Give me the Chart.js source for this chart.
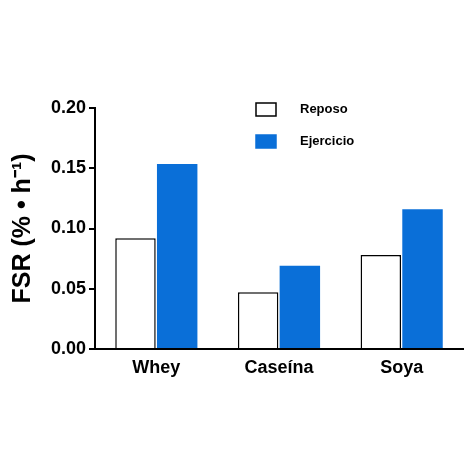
<!DOCTYPE html><html><head><script src="https://cdn.jsdelivr.net/npm/chart.js"></script>
<style>body{margin:0;background:#fff}#w{width:474px;height:474px}</style></head><body><div id="w"><canvas id="c"></canvas></div>
<script>
const categories=["Whey","Caseína","Soya"];
const reposo=[0.092,0.047,0.078];
const ejercicio=[0.1535,0.069,0.116];
const yTicks=[0,0.05,0.10,0.15,0.20];
const F="'Liberation Sans', Arial, sans-serif";
const legendPlugin={id:'lg',afterDraw(ch){const c=ch.ctx;c.save();
ch.data.datasets.forEach((d,i)=>{const x=256,y=103+i*32;c.fillStyle=d.backgroundColor;c.fillRect(x,y,20,13);c.lineWidth=1.5;c.strokeStyle=d.borderColor;c.strokeRect(x,y,20,13);
c.fillStyle='#000';c.font="bold 13px "+F;c.textBaseline='middle';c.fillText(d.label,x+44,y+6.5);});c.restore();}};
new Chart(document.getElementById('c'),{type:'bar',
data:{labels:categories,datasets:[
{label:'Reposo',data:reposo,backgroundColor:'#ffffff',borderColor:'#000',borderWidth:1.5},
{label:'Ejercicio',data:ejercicio,backgroundColor:'#0a6fd8',borderColor:'#0a6fd8',borderWidth:0}]},
options:{responsive:true,maintainAspectRatio:false,animation:false,
layout:{padding:{top:108,right:11,bottom:0,left:6}},
plugins:{legend:{display:false},tooltip:{enabled:false}},
datasets:{bar:{categoryPercentage:0.68,barPercentage:0.97}},
scales:{
x:{border:{color:'#000',width:2},grid:{drawOnChartArea:false,drawTicks:false},
ticks:{color:'#000',font:{family:F,size:18,weight:'bold'},padding:8},afterFit(s){s.height=125;}},
y:{min:0,max:0.2,border:{color:'#000',width:2},grid:{drawOnChartArea:false,color:'#000',lineWidth:2,tickLength:6},
afterBuildTicks(s){s.ticks=yTicks.map(v=>({value:v}));},
ticks:{color:'#000',font:{family:F,size:18,weight:'bold'},callback:v=>v.toFixed(2)},
title:{display:true,text:'FSR (% • h⁻¹)',color:'#000',font:{family:F,size:25,weight:'bold'},padding:2},
afterFit(s){s.width=89;}}}},
plugins:[legendPlugin]});
</script></body></html>
